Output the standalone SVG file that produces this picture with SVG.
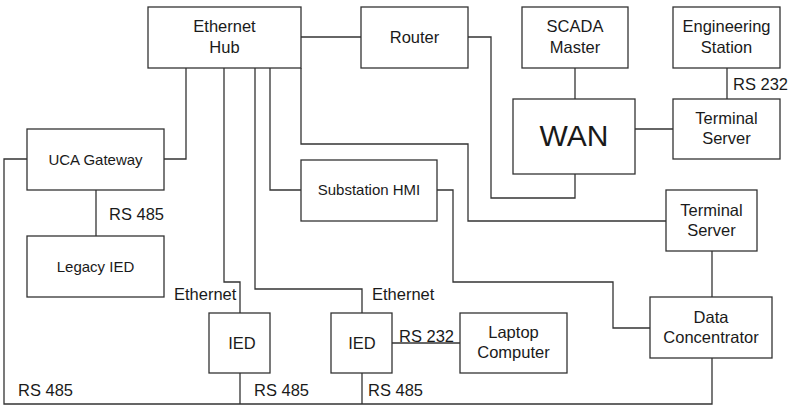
<svg xmlns="http://www.w3.org/2000/svg" width="793" height="410" viewBox="0 0 793 410">
  <style>
    .box { fill: #ffffff; stroke: #333333; stroke-width: 1.3; }
    .wire { fill: none; stroke: #333333; stroke-width: 1.3; }
    text { font-family: "Liberation Sans", Arial, sans-serif; fill: #1a1a1a; }
    .lg { font-size: 16.5px; text-anchor: middle; }
    .sm { font-size: 15px; text-anchor: middle; }
    .lbl { font-size: 16.5px; }
  </style>
  <rect width="793" height="410" fill="#ffffff"/>

  <!-- connectors -->
  <g id="connectors">
    <polyline class="wire" points="186,68 186,159 164,159"/>
    <polyline class="wire" points="224,68 224,282 240,282 240,313"/>
    <polyline class="wire" points="255,68 255,289 362,289 362,313"/>
    <polyline class="wire" points="270,68 270,190 301,190"/>
    <polyline class="wire" points="301,68 301,144 468,144 468,221 666,221"/>
    <line class="wire" x1="301" y1="37" x2="361" y2="37"/>
    <polyline class="wire" points="468,37 491,37 491,198 575,198 575,174"/>
    <line class="wire" x1="575" y1="68" x2="575" y2="99"/>
    <line class="wire" x1="635" y1="129" x2="673" y2="129"/>
    <line class="wire" x1="727" y1="68" x2="727" y2="99"/>
    <polyline class="wire" points="437,190 453,190 453,282 613,282 613,328 650,328"/>
    <line class="wire" x1="712" y1="251" x2="712" y2="297"/>
    <line class="wire" x1="96" y1="190" x2="96" y2="236"/>
    <line class="wire" x1="392" y1="343" x2="460" y2="343"/>
    <polyline class="wire" points="27,159 4,159 4,404 712,404 712,358"/>
    <line class="wire" x1="240" y1="373" x2="240" y2="404"/>
    <line class="wire" x1="362" y1="373" x2="362" y2="404"/>
  </g>

  <!-- link labels -->
  <g id="link-labels">
    <text class="lbl" x="733" y="90">RS 232</text>
    <text class="lbl" x="109" y="220">RS 485</text>
    <text class="lbl" x="174" y="300">Ethernet</text>
    <text class="lbl" x="372" y="300">Ethernet</text>
    <text class="lbl" x="399" y="342">RS 232</text>
    <text class="lbl" x="18" y="396">RS 485</text>
    <text class="lbl" x="254" y="396">RS 485</text>
    <text class="lbl" x="368" y="396">RS 485</text>
  </g>

  <g id="ethernet-hub">
    <rect class="box" x="148" y="7" width="153" height="61"/>
    <text class="lg" x="224.5" y="32">Ethernet</text>
    <text class="lg" x="224.5" y="53">Hub</text>
  </g>
  <g id="router">
    <rect class="box" x="361" y="7" width="107" height="61"/>
    <text class="lg" x="414.5" y="43">Router</text>
  </g>
  <g id="scada-master">
    <rect class="box" x="522" y="7" width="106" height="61"/>
    <text class="lg" x="575" y="32">SCADA</text>
    <text class="lg" x="575" y="53">Master</text>
  </g>
  <g id="engineering-station">
    <rect class="box" x="673" y="7" width="107" height="61"/>
    <text class="lg" x="726.5" y="32">Engineering</text>
    <text class="lg" x="726.5" y="53">Station</text>
  </g>
  <g id="wan">
    <rect class="box" x="513" y="99" width="122" height="75"/>
    <text x="574" y="146" font-size="30" text-anchor="middle">WAN</text>
  </g>
  <g id="terminal-server-1">
    <rect class="box" x="673" y="99" width="107" height="60"/>
    <text class="lg" x="726.5" y="124">Terminal</text>
    <text class="lg" x="726.5" y="144">Server</text>
  </g>
  <g id="uca-gateway">
    <rect class="box" x="27" y="129" width="137" height="61"/>
    <text class="sm" x="95.5" y="165">UCA Gateway</text>
  </g>
  <g id="substation-hmi">
    <rect class="box" x="301" y="160" width="136" height="61"/>
    <text class="sm" x="369" y="195">Substation HMI</text>
  </g>
  <g id="terminal-server-2">
    <rect class="box" x="666" y="190" width="91" height="61"/>
    <text class="lg" x="711.5" y="216">Terminal</text>
    <text class="lg" x="711.5" y="236">Server</text>
  </g>
  <g id="legacy-ied">
    <rect class="box" x="27" y="236" width="137" height="61"/>
    <text class="sm" x="95.5" y="272">Legacy IED</text>
  </g>
  <g id="data-concentrator">
    <rect class="box" x="650" y="297" width="122" height="61"/>
    <text class="lg" x="711" y="323">Data</text>
    <text class="lg" x="711" y="343">Concentrator</text>
  </g>
  <g id="ied-1">
    <rect class="box" x="209" y="313" width="61" height="60"/>
    <text class="lg" x="242" y="349">IED</text>
  </g>
  <g id="ied-2">
    <rect class="box" x="331" y="313" width="61" height="60"/>
    <text class="lg" x="362" y="349">IED</text>
  </g>
  <g id="laptop-computer">
    <rect class="box" x="460" y="313" width="107" height="60"/>
    <text class="lg" x="513.5" y="338">Laptop</text>
    <text class="lg" x="513.5" y="358">Computer</text>
  </g>
</svg>
